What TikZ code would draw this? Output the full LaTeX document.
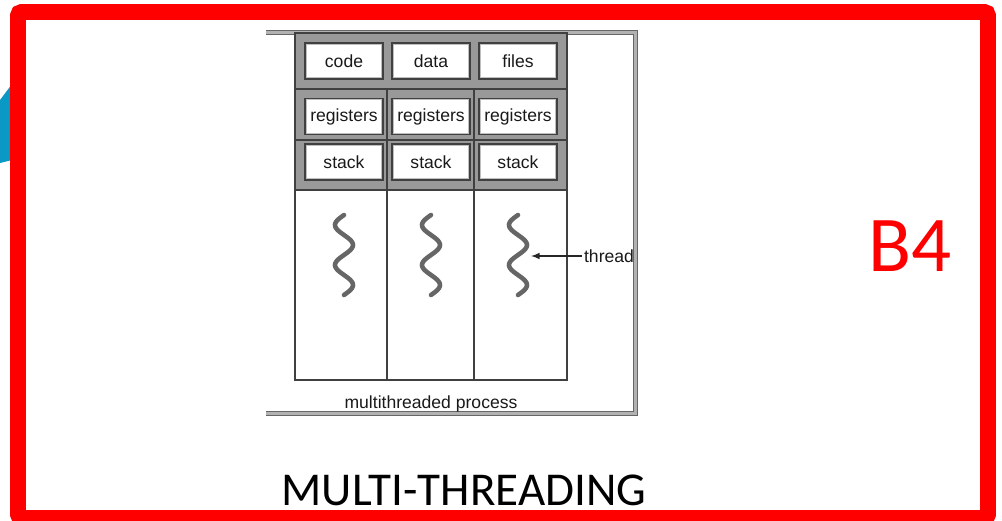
\documentclass[tikz,border=0pt]{standalone}
\usepackage{fontspec}
\setmainfont{Carlito}
\newfontfamily\figfont{Liberation Sans}
\usepackage{tikz}

\definecolor{slideblue}{HTML}{0A98C4}

\tikzset{
	part/.style={draw=black!75, line width=0.8pt, fill=white,
		minimum width=1.56cm, minimum height=0.72cm, inner sep=0pt,
		font=\figfont\fontsize{10}{12}\selectfont, text=black!90,
		path picture={\draw[black!25, line width=2.2pt]
			(path picture bounding box.south west) rectangle (path picture bounding box.north east);}},
	lbl/.style={font=\figfont\fontsize{10}{12}\selectfont, text=black!90, inner sep=1pt},
	proc/.style={draw=black!60, line width=0.6pt, double=black!30, double distance=1.4pt},
	wave/.style={black!60, line width=2.6pt, line cap=round}
}

\begin{document}
\begin{tikzpicture}[x=0.02cm, y=-0.02cm]
\useasboundingbox (0,0) rectangle (1002,521);

% slide frame
\fill[slideblue] (12,84) -- (0,100) -- (0,163) -- (12,160) -- cycle;
\draw[red, line width=9pt, rounded corners=2pt] (18,12) rectangle (988,518);

% process outline, open on the left
\draw[proc] (266,32.5) -- (635.5,32.5) -- (635.5,413.5) -- (266,413.5);

% shared part and per-thread rows
\fill[black!40] (295,33) rectangle (567,190);
\draw[black!75, line width=0.7pt] (295,33) rectangle (567,380);
\foreach \ya in {89, 140, 190} {
	\draw[black!75, line width=0.7pt] (295,\ya) -- (567,\ya);
}
\foreach \xa in {387, 474} {
	\draw[black!75, line width=0.7pt] (\xa,89) -- (\xa,380);
}

\node[part] (code) at (344,61) {code};
\node[part] (data) at (431,61) {data};
\node[part] (files) at (518,61) {files};

\foreach \cx [count=\i] in {344, 431, 518} {
	\node[part] (reg\i) at (\cx,116.5) {registers};
	\node[part] (stk\i) at (\cx,162) {stack};
	\draw[wave] plot[domain=0:720, samples=60, smooth] ({\cx - 9*sin(\x)}, {215 + \x/9});
}

\node[lbl, anchor=west] (thread) at (582,256) {thread};
\coordinate (tip) at (531,256);
\draw[-latex, black!85, line width=0.7pt] (thread) -- (tip);

\node[lbl] (proclbl) at (431,404) {multithreaded process};

% slide texts
\node[text=red, font=\fontsize{45}{50}\selectfont] (tag) at (910,246) {B4};
\node[font=\fontsize{26.8}{30}\selectfont] (title) at (464,490) {MULTI-THREADING};
\end{tikzpicture}
\end{document}
